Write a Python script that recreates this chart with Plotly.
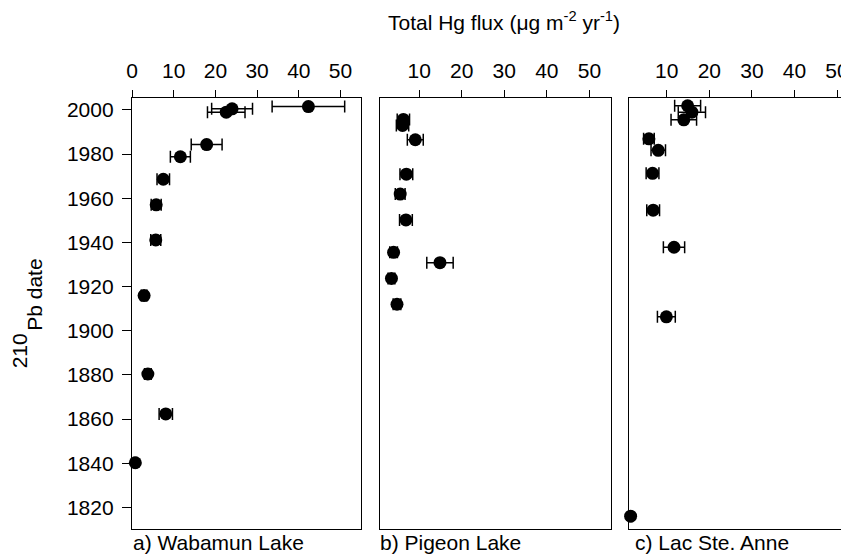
import plotly.graph_objects as go

# ---- data ----
wab_year = [2001.5, 2000.5, 1999.0, 1984.3, 1978.8, 1968.6, 1957.0, 1941.1, 1915.9, 1880.4, 1862.3, 1840.2]
wab_flux = [42.3, 24.0, 22.6, 17.9, 11.6, 7.5, 5.8, 5.7, 2.9, 3.8, 8.1, 0.8]
wab_err = [8.7, 4.9, 4.5, 3.7, 2.4, 1.5, 1.2, 1.2, 0.7, 0.8, 1.6, 0.3]

pig_year = [1995.7, 1993.0, 1986.5, 1970.9, 1961.9, 1950.2, 1935.5, 1930.8, 1923.7, 1912.0]
pig_flux = [6.3, 6.1, 9.1, 7.0, 5.55, 6.9, 4.0, 14.9, 3.5, 4.8]
pig_err = [1.45, 1.45, 1.87, 1.5, 1.15, 1.5, 0.9, 3.1, 0.8, 0.9]

lsa_year = [2001.9, 1999.0, 1995.5, 1986.9, 1981.7, 1971.3, 1954.6, 1937.8, 1906.3, 1816.0]
lsa_flux = [14.9, 15.9, 14.0, 5.8, 8.0, 6.65, 6.8, 11.7, 9.9, 1.5]
lsa_err = [3.05, 3.2, 3.0, 1.25, 1.7, 1.5, 1.5, 2.5, 2.1, 0.3]

x_ticks = [0, 10, 20, 30, 40, 50]
y_ticks = [1820, 1840, 1860, 1880, 1900, 1920, 1940, 1960, 1980, 2000]
panel_labels = ["a) Wabamun Lake", "b) Pigeon Lake", "c) Lac Ste. Anne"]

FONT = "Liberation Sans, Arial, sans-serif"
# page body has an 8px default margin -> figure is 8px smaller than the window
OFF = 8
W, H = 849 - OFF, 556 - OFF
# plot area in screen pixels: x 132..849, y 98..529
SX0, SX1, SY0, SY1 = 132, 849, 98, 529
L, R, T, B = SX0 - OFF, 0, SY0 - OFF, 556 - SY1
PW = SX1 - SX0
PH = SY1 - SY0


def px_x(p):
    return (p - SX0) / PW


def px_y(p):
    return (SY1 - p) / PH


fig = go.Figure()

series = [(wab_flux, wab_year, wab_err, "x", "y"),
          (pig_flux, pig_year, pig_err, "x2", "y2"),
          (lsa_flux, lsa_year, lsa_err, "x3", "y3")]
for xs, ys, es, xa, ya in series:
    fig.add_trace(go.Scatter(
        x=xs, y=ys, mode="markers", xaxis=xa, yaxis=ya,
        marker=dict(size=13, color="black"),
        error_x=dict(type="data", array=es, visible=True, color="black",
                     thickness=1.5, width=6),
        cliponaxis=False, showlegend=False, hoverinfo="x+y"))

yrange = [1810.2, 2005.4]
line = dict(showline=True, linecolor="black", linewidth=1.3, showgrid=False, zeroline=False)
xcommon = dict(side="top", ticks="outside", ticklen=7, tickwidth=1.2, tickcolor="black",
               tickvals=x_ticks, tickfont=dict(family=FONT, size=21, color="black"),
               ticklabelstandoff=3, ticklabeloverflow="allow", **line)

fig.update_layout(
    width=W, height=H,
    margin=dict(l=L, r=R, t=T, b=B),
    paper_bgcolor="white", plot_bgcolor="white",
    font=dict(family=FONT, size=21, color="black"),
    xaxis=dict(domain=[0, px_x(362)], range=[0, 55], mirror=True, anchor="y", **xcommon),
    xaxis2=dict(domain=[px_x(381), px_x(612)], range=[0.88, 55], mirror=True, anchor="y2", **xcommon),
    xaxis3=dict(domain=[px_x(630), 1], range=[1.03, 52.35], mirror=True, anchor="y3", **xcommon),
    yaxis=dict(range=yrange, anchor="x", mirror=True, ticks="outside", ticklen=9,
               tickwidth=1.2, tickcolor="black", tickvals=y_ticks,
               tickfont=dict(family=FONT, size=21, color="black"), ticklabelstandoff=4, **line),
    yaxis2=dict(range=yrange, anchor="x2", mirror=True, showticklabels=False, ticks="", **line),
    yaxis3=dict(range=yrange, anchor="x3", mirror=False, showticklabels=False, ticks="", **line),
)

ann = [
    dict(text="Total Hg flux (\u03bcg m<sup>-2</sup> yr<sup>-1</sup>)", x=px_x(505), y=px_y(21),
         xanchor="center", yanchor="middle"),
    dict(text="Pb date", x=px_x(33.5), y=px_y(295), textangle=-90, xanchor="center", yanchor="middle"),
    dict(text="210", x=px_x(19), y=px_y(351), textangle=-90, xanchor="center", yanchor="middle"),
    dict(text=panel_labels[0], x=px_x(131), y=px_y(542), xanchor="left", yanchor="middle"),
    dict(text=panel_labels[1], x=px_x(379), y=px_y(542), xanchor="left", yanchor="middle"),
    dict(text=panel_labels[2], x=px_x(634), y=px_y(542), xanchor="left", yanchor="middle"),
]
for a in ann:
    fig.add_annotation(xref="paper", yref="paper", showarrow=False,
                       font=dict(family=FONT, size=21, color="black"), **a)

fig.write_html("out.html")
